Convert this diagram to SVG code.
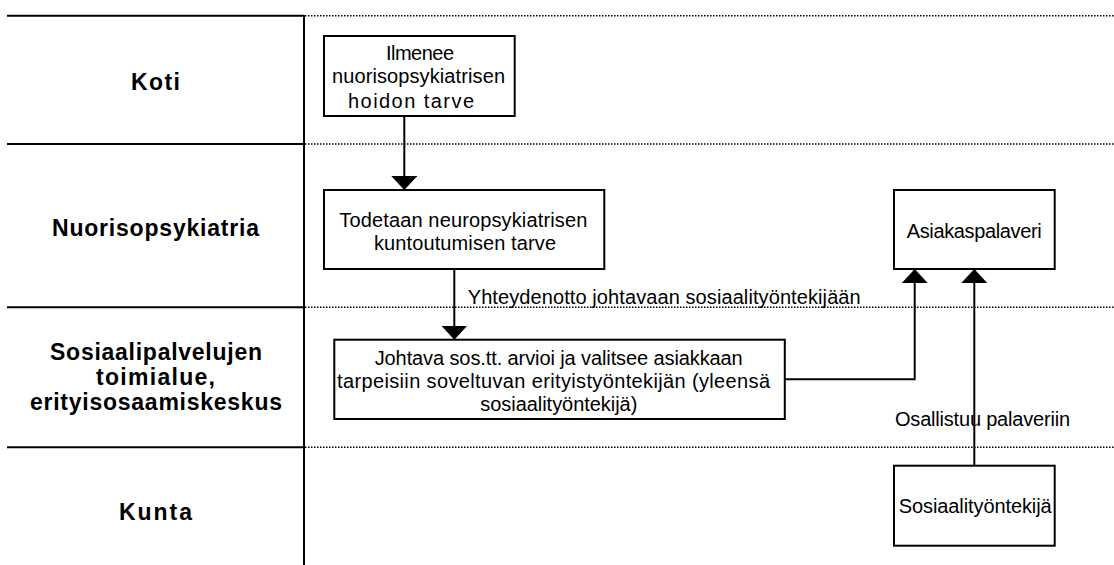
<svg xmlns="http://www.w3.org/2000/svg" width="1114" height="565" viewBox="0 0 1114 565">
<style>
  .lane { stroke: #000; stroke-width: 2; fill: none; }
  .dot { stroke: #000; stroke-width: 1.5; stroke-dasharray: 1.5 1.5; fill: none; }
  .box { fill: #fff; stroke: #000; stroke-width: 2; }
  .t { font-family: "Liberation Sans", Arial, sans-serif; font-size: 20px; fill: #000; }
  .lbl { font-family: "Liberation Sans", Arial, sans-serif; font-size: 23px; font-weight: bold; fill: #000; }
  .conn { stroke: #000; stroke-width: 2; fill: none; marker-end: url(#arr); }
</style>
<defs>
  <marker id="arr" markerUnits="userSpaceOnUse" markerWidth="14" markerHeight="26" viewBox="0 0 14 26" refX="14" refY="13" orient="auto">
    <path d="M0,0 L14,13 L0,26 Z" fill="#000"/>
  </marker>
</defs>
<rect width="1114" height="565" fill="#fff"/>
<g id="lanes">
  <path class="lane" d="M7,15.7 H304 M7,144 H304 M7,307.3 H304 M7,447.3 H304 M304,15 V565"/>
  <path class="dot" d="M305,15.7 H1114 M305,144 H1114 M305,307.3 H1114 M305,447.3 H1114"/>
  <text class="lbl" x="131" y="90" textLength="49" lengthAdjust="spacing">Koti</text>
  <text class="lbl" x="52" y="236" textLength="207" lengthAdjust="spacing">Nuorisopsykiatria</text>
  <text class="lbl" x="50" y="360" textLength="212" lengthAdjust="spacing">Sosiaalipalvelujen</text>
  <text class="lbl" x="96" y="384.7" textLength="119" lengthAdjust="spacing">toimialue,</text>
  <text class="lbl" x="30" y="409.7" textLength="252" lengthAdjust="spacing">erityisosaamiskeskus</text>
  <text class="lbl" x="119" y="519.7" textLength="73" lengthAdjust="spacing">Kunta</text>
</g>
<g id="n1">
  <rect class="box" x="324" y="36" width="190.7" height="80"/>
  <text class="t" x="386" y="60" textLength="68" lengthAdjust="spacing">Ilmenee</text>
  <text class="t" x="332" y="83" textLength="173" lengthAdjust="spacing">nuorisopsykiatrisen</text>
  <text class="t" x="348" y="107.7" textLength="126" lengthAdjust="spacing">hoidon tarve</text>
</g>
<g id="n2">
  <rect class="box" x="324" y="190" width="280.3" height="79"/>
  <text class="t" x="339.3" y="226.7" textLength="248" lengthAdjust="spacing">Todetaan neuropsykiatrisen</text>
  <text class="t" x="374" y="250" textLength="182" lengthAdjust="spacing">kuntoutumisen tarve</text>
</g>
<g id="n3">
  <rect class="box" x="334.3" y="339.7" width="450.5" height="79.3"/>
  <text class="t" x="374.7" y="364.7" textLength="368" lengthAdjust="spacing">Johtava sos.tt. arvioi ja valitsee asiakkaan</text>
  <text class="t" x="337" y="387.7" textLength="433" lengthAdjust="spacing">tarpeisiin soveltuvan erityistyöntekijän (yleensä</text>
  <text class="t" x="480.3" y="411.3" textLength="157" lengthAdjust="spacing">sosiaalityöntekijä)</text>
</g>
<g id="n4">
  <rect class="box" x="894" y="190" width="160.7" height="79"/>
  <text class="t" x="906.7" y="238" textLength="135" lengthAdjust="spacing">Asiakaspalaveri</text>
</g>
<g id="n5">
  <rect class="box" x="894" y="465.7" width="160.7" height="80"/>
  <text class="t" x="898.7" y="513.3" textLength="153" lengthAdjust="spacing">Sosiaalityöntekijä</text>
</g>
<g id="connectors">
  <path class="conn" d="M404.3,116 V190"/>
  <path class="conn" d="M454.3,269 V339.7"/>
  <path class="conn" d="M784.8,379.3 H914.7 V269"/>
  <path class="conn" d="M974.3,465.7 V269"/>
  <text class="t" x="467.7" y="303.7" textLength="393" lengthAdjust="spacing">Yhteydenotto johtavaan sosiaalityöntekijään</text>
  <text class="t" x="895" y="425.7" textLength="175" lengthAdjust="spacing">Osallistuu palaveriin</text>
</g>
</svg>
